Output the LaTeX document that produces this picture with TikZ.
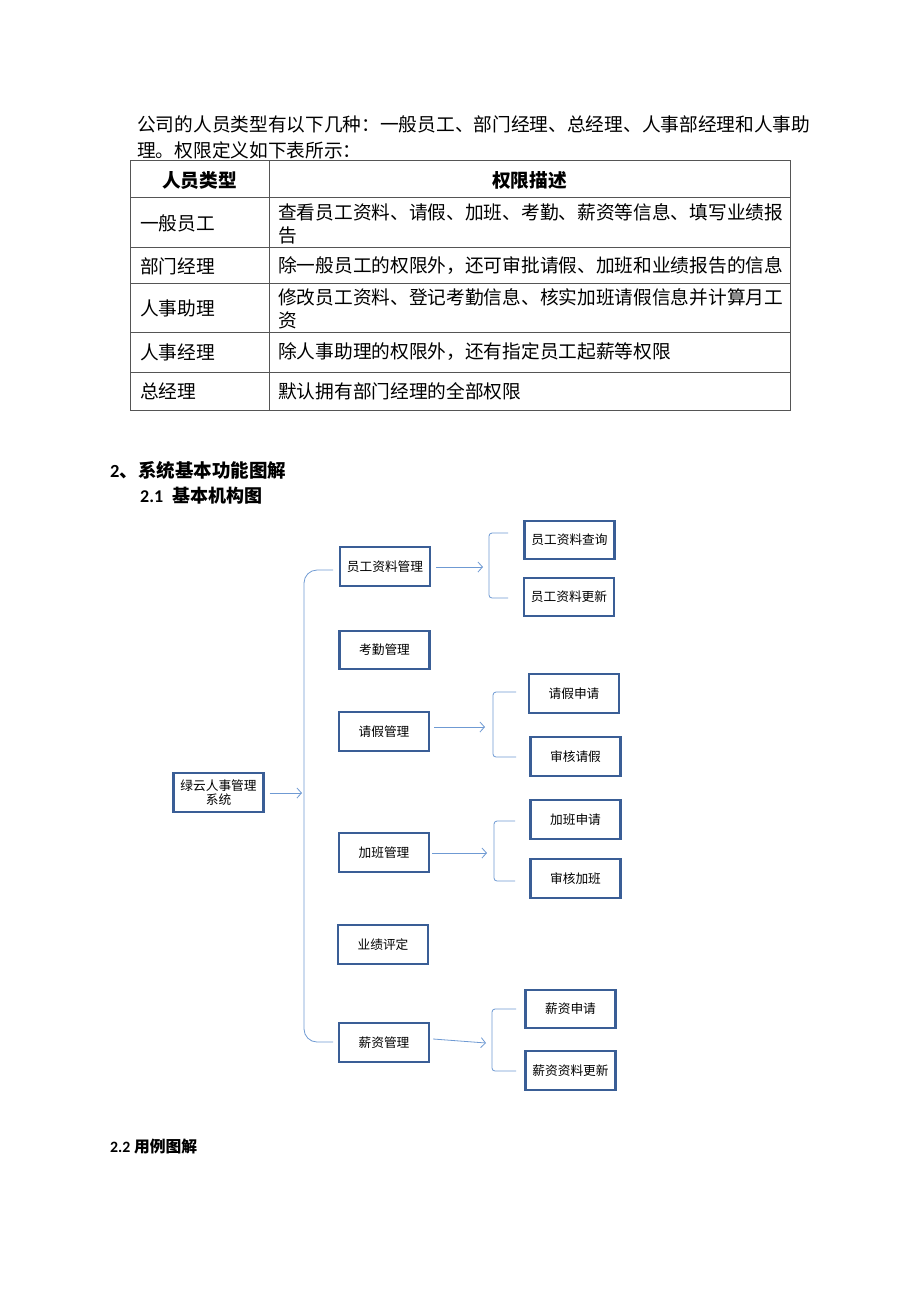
\documentclass[tikz,border=0pt]{standalone}
\usepackage{fontspec}
\setmainfont{Noto Sans CJK SC}
\newfontfamily\carlfont{Carlito}
\usetikzlibrary{arrows.meta}
\definecolor{boxc}{HTML}{3A5E96}
\definecolor{lnc}{HTML}{6F9AD3}
\definecolor{tabc}{HTML}{555555}
\begin{document}
\begin{tikzpicture}[x=1pt,y=-1pt,
  box/.style={draw=boxc,line width=2.4pt,minimum width=90pt,minimum height=38.5pt,inner sep=1pt,font=\fontsize{12.7}{15}\selectfont,align=center},
  conn/.style={draw=lnc,line width=0.8pt},
  arr/.style={conn,-{Straight Barb[length=4.5pt,width=10pt,line width=0.8pt]}},
  brk/.style={conn,rounded corners=3pt},
  para/.style={anchor=west,inner sep=0pt,font=\fontsize{18.7}{22}\selectfont},
  cell/.style={anchor=west,inner sep=0pt,font=\fontsize{18.7}{22}\selectfont},
  hcell/.style={inner sep=0pt,font=\fontsize{18.7}{22}\selectfont\bfseries},
  tab/.style={draw=tabc,line width=0.9pt}]
\useasboundingbox[fill=white] (0,0) rectangle (920,1302);

% paragraph
\node[para] (p1) at (137,124) {公司的人员类型有以下几种：一般员工、部门经理、总经理、人事部经理和人事助};
\node[para] (p2) at (137,150) {理。权限定义如下表所示：};

% table
\draw[tab] (130,160) rectangle (790,410);
\draw[tab] (269,160) -- (269,410);
\foreach \y in {197,247,283,332,372} \draw[tab] (130,\y) -- (790,\y);
\node[hcell] (h1) at (199.5,180) {人员类型};
\node[hcell] (h2) at (529.5,180) {权限描述};
\node[cell] (r1a) at (140,223) {一般员工};
\node[cell] (r1b) at (278,212) {查看员工资料、请假、加班、考勤、薪资等信息、填写业绩报};
\node[cell] (r1c) at (278,235) {告};
\node[cell] (r2a) at (140,266) {部门经理};
\node[cell] (r2b) at (278,266) {除一般员工的权限外，还可审批请假、加班和业绩报告的信息};
\node[cell] (r3a) at (140,308) {人事助理};
\node[cell] (r3b) at (278,297) {修改员工资料、登记考勤信息、核实加班请假信息并计算月工};
\node[cell] (r3c) at (278,320) {资};
\node[cell] (r4a) at (140,352) {人事经理};
\node[cell] (r4b) at (278,352) {除人事助理的权限外，还有指定员工起薪等权限};
\node[cell] (r5a) at (140,391) {总经理};
\node[cell] (r5b) at (278,391) {默认拥有部门经理的全部权限};

% headings
\node[anchor=west,inner sep=0pt,font=\fontsize{18.5}{21}\selectfont\bfseries] (s2) at (110,470) {{\carlfont\bfseries 2}、系统基本功能图解};
\node[anchor=west,inner sep=0pt,font=\fontsize{18}{21}\selectfont\bfseries] (s21) at (140,496) {{\carlfont\bfseries 2.1}\hspace{9pt}基本机构图};
\node[anchor=west,inner sep=0pt,font=\fontsize{15.8}{18}\selectfont\bfseries] (s22) at (110,1147) {{\carlfont\bfseries 2.2} 用例图解};

% diagram boxes
\node[box] (root) at (218.5,792.5) {绿云人事管理\\[-1pt]系统};
\node[box] (zlgl) at (385,566.5) {员工资料管理};
\node[box] (cx) at (569.5,540) {员工资料查询};
\node[box] (gx) at (569,597) {员工资料更新};
\node[box] (kq) at (384.5,650) {考勤管理};
\node[box] (qjgl) at (384,731.5) {请假管理};
\node[box] (qjsq) at (574,693.5) {请假申请};
\node[box] (shqj) at (575.5,756.5) {审核请假};
\node[box] (jbgl) at (384,852.5) {加班管理};
\node[box] (jbsq) at (575.5,819.5) {加班申请};
\node[box] (shjb) at (575.5,878.5) {审核加班};
\node[box] (yjpd) at (383,944.5) {业绩评定};
\node[box] (xzgl) at (384,1042.5) {薪资管理};
\node[box] (xzsq) at (570.5,1009) {薪资申请};
\node[box] (xzgx) at (570.5,1070.5) {薪资资料更新};

% free ends
\coordinate (ra) at (302,793);
\coordinate (bt) at (333,570);
\coordinate (bb) at (333,1042);
\coordinate (a1) at (483,567);
\coordinate (a2) at (485,727);
\coordinate (a3) at (487,853);
\coordinate (a4) at (486,1043);

% main connectors
\draw[arr] ([xshift=5pt]root.east |- ra) -- (ra);
\draw[conn,rounded corners=13pt] (bt) -- (304,570) -- (304,1042) -- (bb);

\draw[arr] ([xshift=5pt]zlgl.east |- a1) -- (a1);
\draw[brk] (508,533) -- (489,533) -- (489,598) -- (508,598);

\draw[arr] ([xshift=4pt]qjgl.east |- a2) -- (a2);
\draw[brk] (516,692) -- (493,692) -- (493,757) -- (516,757);

\draw[arr] ([xshift=2pt]jbgl.east |- a3) -- (a3);
\draw[brk] (515,821) -- (494,821) -- (494,881) -- (515,881);

\draw[arr] ([xshift=3pt,yshift=3.5pt]xzgl.east) -- (a4);
\draw[brk] (516,1009) -- (492,1009) -- (492,1071) -- (516,1071);
\end{tikzpicture}
\end{document}
